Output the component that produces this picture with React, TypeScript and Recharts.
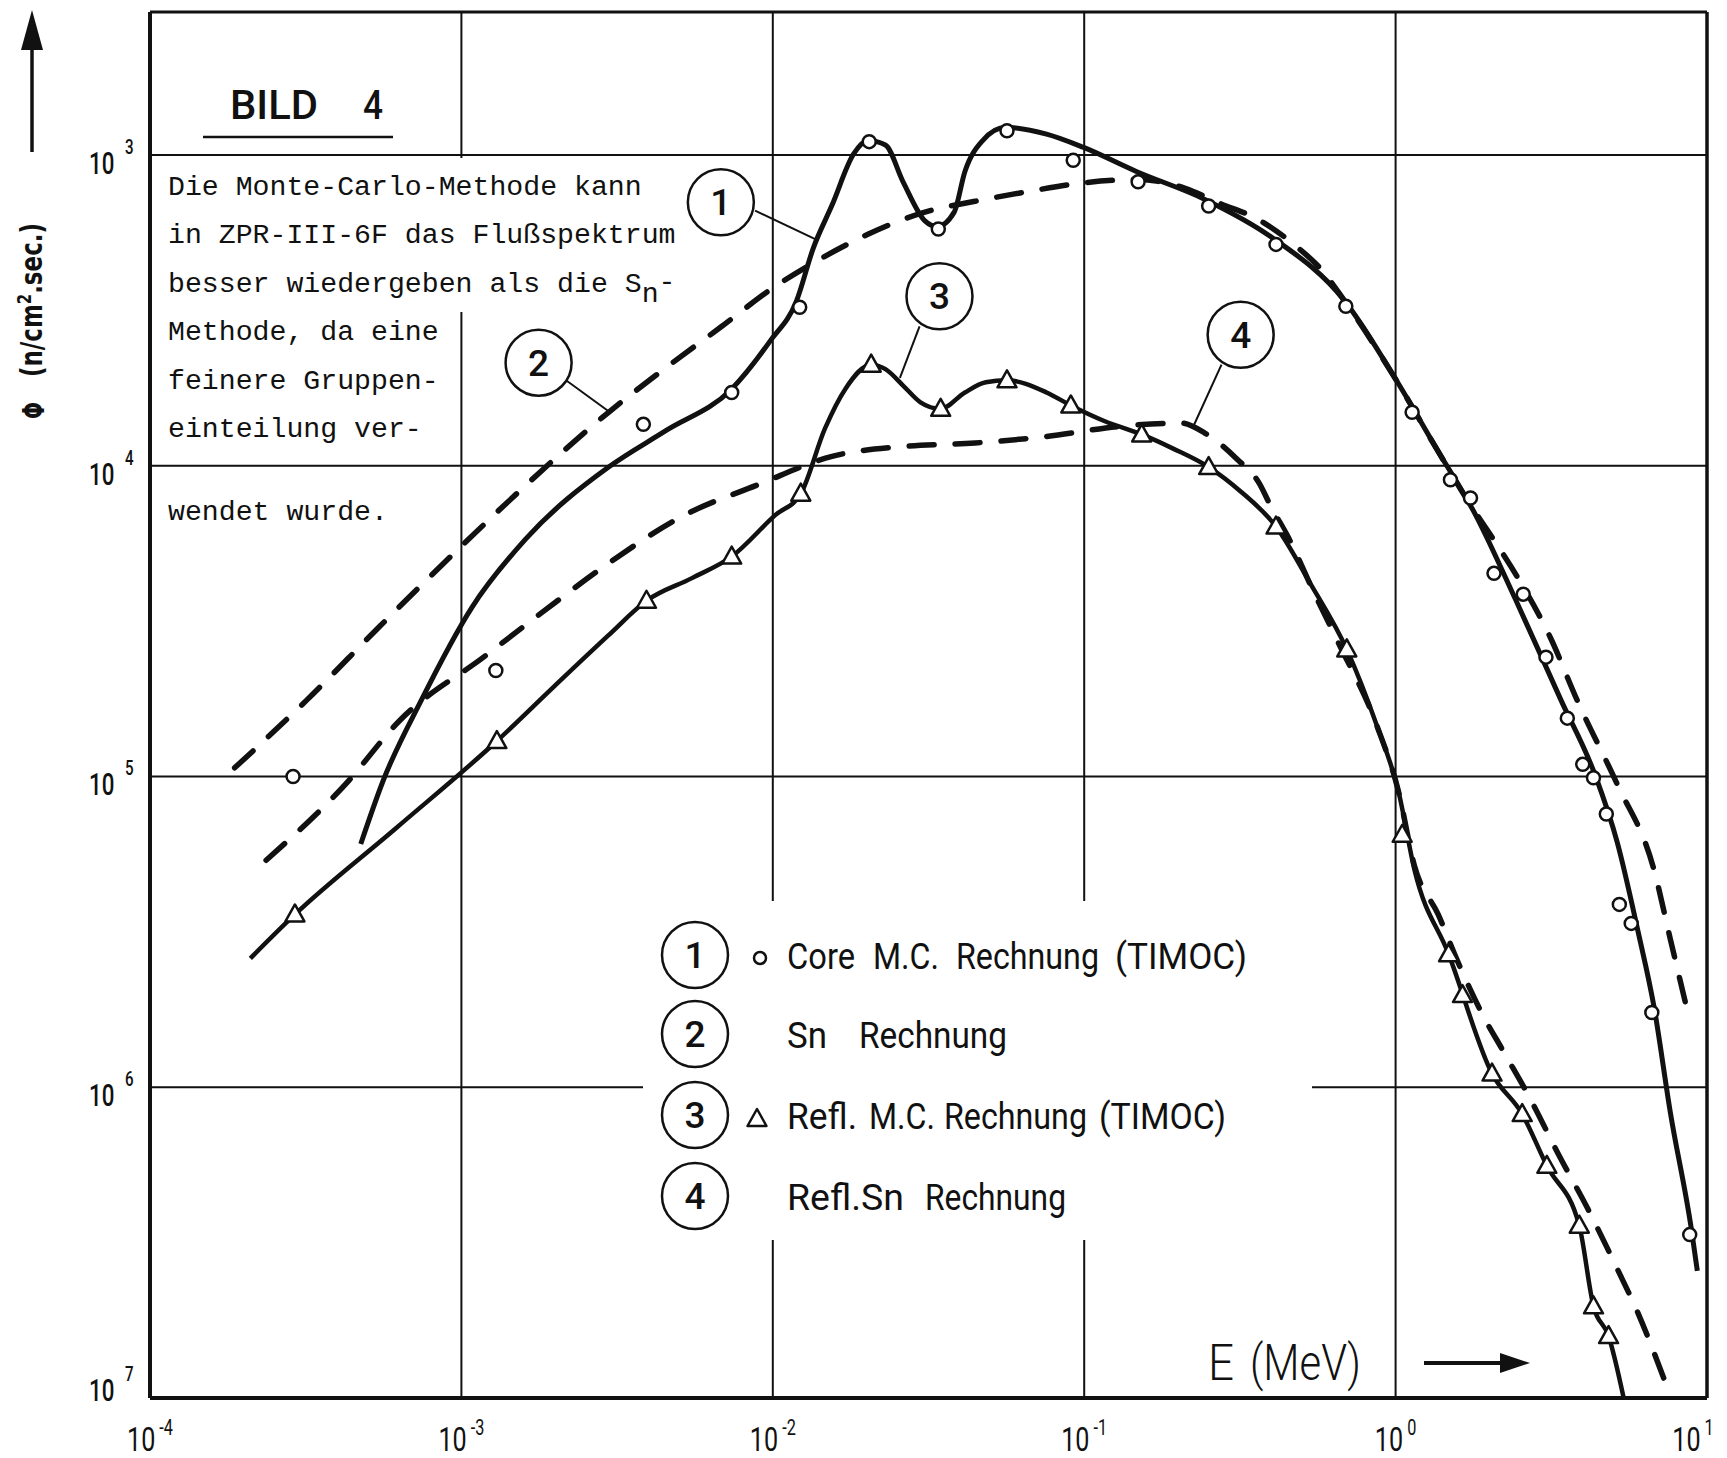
import React from "react";
import {
  ComposedChart,
  Line,
  XAxis,
  YAxis,
  CartesianGrid,
  ReferenceLine,
  ReferenceDot,
} from "recharts";

const W = 1727;
const H = 1458;

// E in MeV, flux as labelled on the axis
const coreMcE = [2.88e-4, 1.29e-3, 3.84e-3, 7.38e-3, 1.22e-2, 2.04e-2, 3.4e-2, 5.65e-2, 9.22e-2, 0.149, 0.251, 0.413, 0.692, 1.13, 1.5, 1.74, 2.07, 2.57, 3.04, 3.56, 3.99, 4.32, 4.75, 5.23, 5.71, 6.65, 8.8];
const coreMcFlux = [1.0e5, 4.56e4, 7.36e3, 5.81e3, 3.09e3, 906, 1.73e3, 836, 1.04e3, 1.22e3, 1.46e3, 1.94e3, 3.07e3, 6.73e3, 1.11e4, 1.27e4, 2.22e4, 2.59e4, 4.13e4, 6.49e4, 9.14e4, 1.01e5, 1.32e5, 2.58e5, 2.97e5, 5.75e5, 2.98e6];

const coreFitE = [4.75e-4, 5.61e-4, 7.43e-4, 1.08e-3, 1.61e-3, 2.97e-3, 4.52e-3, 7.38e-3, 9.84e-3, 1.19e-2, 1.35e-2, 1.55e-2, 1.82e-2, 2.02e-2, 2.3e-2, 2.62e-2, 3.08e-2, 3.37e-2, 3.82e-2, 4.14e-2, 4.72e-2, 5.6e-2, 7.57e-2, 9.91e-2, 0.147, 0.244, 0.403, 0.681, 1.01, 1.34, 1.82, 2.43, 3.4, 4.39, 5.15, 6.0, 6.76, 7.62, 8.94, 9.31];
const coreFitFlux = [1.65e5, 1.03e5, 5.69e4, 2.86e4, 1.72e4, 1.01e4, 7.73e3, 5.66e3, 3.95e3, 2.96e3, 1.99e3, 1.45e3, 991, 899, 929, 1.22e3, 1.63e3, 1.7e3, 1.53e3, 1.13e3, 899, 815, 857, 944, 1.13e3, 1.39e3, 1.85e3, 2.92e3, 5.35e3, 8.67e3, 1.46e4, 2.7e4, 5.69e4, 1.0e5, 1.63e5, 3.14e5, 5.52e5, 1.2e6, 2.93e6, 3.9e6];

const snE = [1.87e-4, 3.18e-4, 5.43e-4, 1.02e-3, 1.56e-3, 2.97e-3, 4.52e-3, 6.81e-3, 9.84e-3, 1.47e-2, 2.02e-2, 3.06e-2, 4.46e-2, 6.65e-2, 9.91e-2, 0.149, 0.211, 0.272, 0.365, 0.474, 0.582, 0.681, 1.01, 1.34, 1.75, 2.05, 2.53, 3.14, 3.83, 5.15, 6.76, 7.62, 8.66];
const snFlux = [9.38e4, 5.69e4, 3.31e4, 1.78e4, 1.19e4, 6.73e3, 4.85e3, 3.58e3, 2.71e3, 2.12e3, 1.8e3, 1.53e3, 1.41e3, 1.31e3, 1.23e3, 1.2e3, 1.28e3, 1.43e3, 1.62e3, 1.95e3, 2.36e3, 2.92e3, 5.35e3, 8.67e3, 1.35e4, 1.71e4, 2.39e4, 3.57e4, 5.69e4, 1.06e5, 2.0e5, 3.33e5, 5.71e5];

const reflMcE = [2.92e-4, 1.3e-3, 3.93e-3, 7.38e-3, 1.23e-2, 2.07e-2, 3.46e-2, 5.65e-2, 9.06e-2, 0.153, 0.251, 0.413, 0.697, 1.05, 1.48, 1.64, 2.04, 2.55, 3.06, 3.89, 4.32, 4.83];
const reflMcFlux = [2.78e5, 7.69e4, 2.72e4, 1.96e4, 1.23e4, 4.73e3, 6.56e3, 5.31e3, 6.4e3, 7.93e3, 1.01e4, 1.57e4, 3.9e4, 1.54e5, 3.73e5, 5.05e5, 9.04e5, 1.22e6, 1.79e6, 2.79e6, 5.07e6, 6.32e6];

const reflFitE = [2.1e-4, 2.92e-4, 6.15e-4, 1.3e-3, 1.99e-3, 2.97e-3, 3.93e-3, 5.5e-3, 7.38e-3, 1.02e-2, 1.23e-2, 1.47e-2, 1.71e-2, 2.07e-2, 2.3e-2, 2.62e-2, 2.98e-2, 3.46e-2, 4.14e-2, 4.83e-2, 5.65e-2, 7.57e-2, 9.06e-2, 0.116, 0.153, 0.193, 0.251, 0.318, 0.413, 0.532, 0.697, 0.871, 1.02, 1.15, 1.48, 2.04, 2.55, 3.06, 3.89, 4.32, 4.83, 5.4];
const reflFitFlux = [3.85e5, 2.78e5, 1.47e5, 7.69e4, 5.12e4, 3.51e4, 2.72e4, 2.3e4, 1.96e4, 1.44e4, 1.23e4, 7.6e3, 5.66e3, 4.73e3, 4.89e3, 5.52e3, 6.25e3, 6.56e3, 5.81e3, 5.39e3, 5.31e3, 5.81e3, 6.4e3, 7.18e3, 7.93e3, 8.81e3, 1.01e4, 1.21e4, 1.57e4, 2.39e4, 3.9e4, 6.87e4, 1.11e5, 2.0e5, 3.73e5, 9.04e5, 1.22e6, 1.79e6, 2.79e6, 5.07e6, 6.32e6, 1.0e7];

const reflSnE = [2.36e-4, 4.24e-4, 6.35e-4, 1.19e-3, 1.82e-3, 2.97e-3, 5.15e-3, 8.99e-3, 1.55e-2, 2.62e-2, 4.46e-2, 7.57e-2, 0.129, 0.204, 0.244, 0.308, 0.365, 0.396, 0.459, 0.546, 0.653, 0.871, 1.02, 1.15, 1.37, 1.59, 1.88, 2.22, 2.72, 3.32, 4.15, 5.15, 6.0, 7.26];
const reflSnFlux = [1.86e5, 1.06e5, 6.59e4, 4.1e4, 2.96e4, 2.06e4, 1.45e4, 1.15e4, 9.33e3, 8.67e3, 8.45e3, 8.05e3, 7.48e3, 7.29e3, 7.85e3, 9.48e3, 1.14e4, 1.34e4, 1.75e4, 2.55e4, 3.69e4, 6.87e4, 1.11e5, 1.94e5, 2.78e5, 3.98e5, 5.71e5, 7.67e5, 1.1e6, 1.63e6, 2.47e6, 3.84e6, 5.32e6, 8.63e6];

// circled curve numbers and their leader lines (data coords)
const calloutLabels = ["1", "2", "3", "4"];
const calloutE = [6.81e-3, 1.77e-3, 3.43e-2, 0.318];
const calloutFlux = [1.42e3, 4.66e3, 2.85e3, 3.79e3];
const leaderFromE = [8.77e-3, 2.14e-3, 2.96e-2, 0.276];
const leaderFromFlux = [1.51e3, 5.26e3, 3.56e3, 4.73e3];
const leaderToE = [1.39e-2, 3.0e-3, 2.56e-2, 0.225];
const leaderToFlux = [1.88e3, 6.73e3, 5.22e3, 7.41e3];

const xTicks = [1e-4, 1e-3, 1e-2, 1e-1, 1, 10];
const yTicks = [1e3, 1e4, 1e5, 1e6, 1e7];
const Y_TOP = Math.pow(10, 2.54);

const noteLines = [
  "Die Monte-Carlo-Methode kann",
  "in ZPR-III-6F das Flußspektrum",
  "besser wiedergeben als die S",
  "Methode, da eine",
  "feinere Gruppen-",
  "einteilung ver-",
];
const noteLast = "wendet wurde.";

const legendLabels = ["1", "2", "3", "4"];
const legendWords = [
  ["Core", "M.C.", "Rechnung", "(TIMOC)"],
  ["Sn", "Rechnung"],
  ["Refl.", "M.C.", "Rechnung", "(TIMOC)"],
  ["Refl.Sn", "Rechnung"],
];

const pts = (e: number[], f: number[]) => e.map((x, i) => ({ e: x, f: f[i] }));

const INK = "#111";
const MONO = "'Liberation Mono', 'DejaVu Sans Mono', monospace";
const SANS = "Roboto, 'DejaVu Sans', sans-serif";

// condensed "10" plus raised exponent; squeezed with a transform
function XTick(props: any) {
  const { x, y, payload } = props;
  const exp = Math.round(Math.log10(payload.value));
  const s = 0.74;
  const tenW = 28.3;
  const supW = (exp < 0 ? 18.4 : 12.4) * s;
  const total = tenW + 4 + supW;
  const x0 = x - total / 2 - (exp === 1 ? 14 : 0);
  return (
    <g transform={`translate(${x0},${y + 53}) scale(${s},1)`}>
      <text x={0} y={0} fontSize={34} fontFamily={SANS} fill={INK}>10</text>
      <text x={(tenW + 4) / s} y={-16} fontSize={22} fontFamily={SANS} fill={INK}>{exp}</text>
    </g>
  );
}

function YTick(props: any) {
  const { x, y, payload } = props;
  const exp = Math.round(Math.log10(payload.value));
  const dy = exp === 7 ? -16 : 0;
  const s = 0.72;
  return (
    <g transform={`translate(${x - 61},${y + 19 + dy}) scale(${s},1)`}>
      <text x={0} y={0} fontSize={31} fontFamily={SANS} fontWeight={500} fill={INK}>10</text>
      <text x={36 / s} y={-20} fontSize={21} fontFamily={SANS} fontWeight={500} fill={INK}>{exp}</text>
    </g>
  );
}

const circled = (label: string) => (p: any) => (
  <g>
    <circle cx={p.cx} cy={p.cy} r={33} fill="#fff" stroke={INK} strokeWidth={2.5} />
    <text x={p.cx} y={p.cy + 13} textAnchor="middle" fontSize={37} fontFamily={SANS} fontWeight={500} fill={INK}>{label}</text>
  </g>
);

const circleDot = (p: any) => (
  <circle key={`c${p.index}`} cx={p.cx} cy={p.cy} r={6.5} fill="#fff" stroke={INK} strokeWidth={2.5} />
);

const triPath = (cx: number, cy: number) =>
  `M${cx},${cy - 10} L${cx + 9.5},${cy + 7} L${cx - 9.5},${cy + 7} Z`;

const triDot = (p: any) => (
  <path key={`t${p.index}`} d={triPath(p.cx, p.cy)} fill="#fff" stroke={INK} strokeWidth={2.5} strokeLinejoin="round" />
);

// layout of the overlay text (pixels)
const legendRowY = [955, 1034, 1115, 1196];
const legendWordX = [
  [[787, 855], [873, 939], [956, 1099], [1115, 1247]],
  [[787, 827], [859, 1007]],
  [[787, 857], [869, 935], [944, 1087], [1099, 1226]],
  [[787, 904], [925, 1066]],
];

function Overlay() {
  return (
    <svg width={W} height={H} style={{ position: "absolute", left: 0, top: 0, pointerEvents: "none" }}>
      {/* paper behind the note and the legend hides the grid */}
      <rect x={154} y={158} width={526} height={154} fill="#fff" />
      <rect x={643} y={901} width={669} height={339} fill="#fff" />

      {/* y axis title */}
      <line x1={32} y1={152} x2={32} y2={44} stroke={INK} strokeWidth={3.5} />
      <polygon points="32,10 21,50 43,50" fill={INK} />
      <text transform="translate(44,419) rotate(-90)" fontSize={30} fontWeight={700} fontFamily="'DejaVu Sans', sans-serif" fill={INK} textLength={17} lengthAdjust="spacingAndGlyphs">Φ</text>
      <text transform="translate(42,377) rotate(-90)" fontSize={31} fontWeight={700} fontFamily="'DejaVu Sans', sans-serif" fill={INK} textLength={154} lengthAdjust="spacingAndGlyphs">
        (n/cm<tspan dy={-11} fontSize={20}>2</tspan><tspan dy={11}>.sec.)</tspan>
      </text>

      {/* title */}
      <text x={230} y={119} fontSize={40} fontFamily={SANS} fontWeight={500} fill={INK} textLength={88} lengthAdjust="spacingAndGlyphs">BILD</text>
      <text x={363} y={119} fontSize={40} fontFamily={SANS} fontWeight={500} fill={INK} textLength={20} lengthAdjust="spacingAndGlyphs">4</text>
      <line x1={203} y1={137} x2={393} y2={137} stroke={INK} strokeWidth={2.5} />

      {/* typewritten note */}
      {noteLines.map((t, i) => (
        <text key={i} x={168} y={195 + i * 48.4} fontSize={28.2} fontFamily={MONO} fill={INK}>
          {t}
          {i === 2 ? (
            <>
              <tspan dy={10}>n</tspan>
              <tspan dy={-12}>-</tspan>
            </>
          ) : null}
        </text>
      ))}
      <text x={168} y={520} fontSize={28.2} fontFamily={MONO} fill={INK}>{noteLast}</text>

      {/* legend */}
      {legendLabels.map((lab, r) => (
        <g key={lab}>
          <circle cx={695} cy={legendRowY[r]} r={33} fill="#fff" stroke={INK} strokeWidth={2.5} />
          <text x={695} y={legendRowY[r] + 13} textAnchor="middle" fontSize={37} fontFamily={SANS} fontWeight={500} fill={INK}>{lab}</text>
          {legendWords[r].map((w, k) => (
            <text key={k} x={legendWordX[r][k][0]} y={legendRowY[r] + 14} fontSize={37} fontFamily={SANS} fill={INK} textLength={legendWordX[r][k][1] - legendWordX[r][k][0]} lengthAdjust="spacingAndGlyphs">{w}</text>
          ))}
        </g>
      ))}
      <circle cx={760} cy={958} r={6} fill="#fff" stroke={INK} strokeWidth={2.5} />
      <path d={triPath(757, 1119)} fill="#fff" stroke={INK} strokeWidth={2.5} strokeLinejoin="round" />

      {/* x axis title */}
      <text x={1208} y={1380} fontSize={50} fontFamily={SANS} fontWeight={300} fill={INK} textLength={26} lengthAdjust="spacingAndGlyphs">E</text>
      <text x={1250} y={1380} fontSize={50} fontFamily={SANS} fontWeight={300} fill={INK} textLength={111} lengthAdjust="spacingAndGlyphs">(MeV)</text>
      <line x1={1424} y1={1363} x2={1506} y2={1363} stroke={INK} strokeWidth={4} />
      <polygon points="1530,1363 1500,1353 1500,1373" fill={INK} />
    </svg>
  );
}

export default function App() {
  const curve = { type: "monotone" as const, dot: false, activeDot: false, isAnimationActive: false, dataKey: "f", stroke: INK };
  const dashed = { strokeWidth: 5.5, strokeDasharray: "25 21", strokeLinecap: "round" as const };
  return (
    <div style={{ position: "absolute", left: 0, top: 0, width: W, height: H, background: "#fff", overflow: "hidden" }}>
      <ComposedChart width={W} height={H} margin={{ top: 12, right: 20, bottom: 0, left: 0 }}>
        <CartesianGrid stroke={INK} strokeWidth={2} />
        <XAxis
          type="number"
          dataKey="e"
          scale="log"
          domain={[1e-4, 10]}
          ticks={xTicks}
          allowDataOverflow
          interval={0}
          tickLine={false}
          tickSize={0}
          tickMargin={0}
          axisLine={{ stroke: INK, strokeWidth: 4 }}
          height={60}
          tick={XTick}
        />
        <YAxis
          type="number"
          dataKey="f"
          scale="log"
          domain={[Y_TOP, 1e7]}
          reversed
          ticks={yTicks}
          allowDataOverflow
          interval={0}
          tickLine={false}
          tickSize={0}
          tickMargin={0}
          axisLine={{ stroke: INK, strokeWidth: 4 }}
          width={150}
          tick={YTick}
        />
        <ReferenceLine y={Y_TOP} stroke={INK} strokeWidth={3} />
        <ReferenceLine x={10} stroke={INK} strokeWidth={3.5} />

        {calloutLabels.map((lab, i) => (
          <ReferenceLine
            key={`l${lab}`}
            segment={[
              { x: leaderFromE[i], y: leaderFromFlux[i] },
              { x: leaderToE[i], y: leaderToFlux[i] },
            ]}
            stroke={INK}
            strokeWidth={2}
          />
        ))}
        {calloutLabels.map((lab, i) => (
          <ReferenceDot key={`d${lab}`} x={calloutE[i]} y={calloutFlux[i]} r={33} shape={circled(lab)} />
        ))}

        <Line {...curve} {...dashed} data={pts(snE, snFlux)} />
        <Line {...curve} {...dashed} data={pts(reflSnE, reflSnFlux)} />
        <Line {...curve} strokeWidth={5} data={pts(coreFitE, coreFitFlux)} />
        <Line {...curve} strokeWidth={4.5} data={pts(reflFitE, reflFitFlux)} />
        <Line dataKey="f" data={pts(coreMcE, coreMcFlux)} stroke="none" dot={circleDot} activeDot={false} isAnimationActive={false} />
        <Line dataKey="f" data={pts(reflMcE, reflMcFlux)} stroke="none" dot={triDot} activeDot={false} isAnimationActive={false} />
      </ComposedChart>
      <Overlay />
    </div>
  );
}
